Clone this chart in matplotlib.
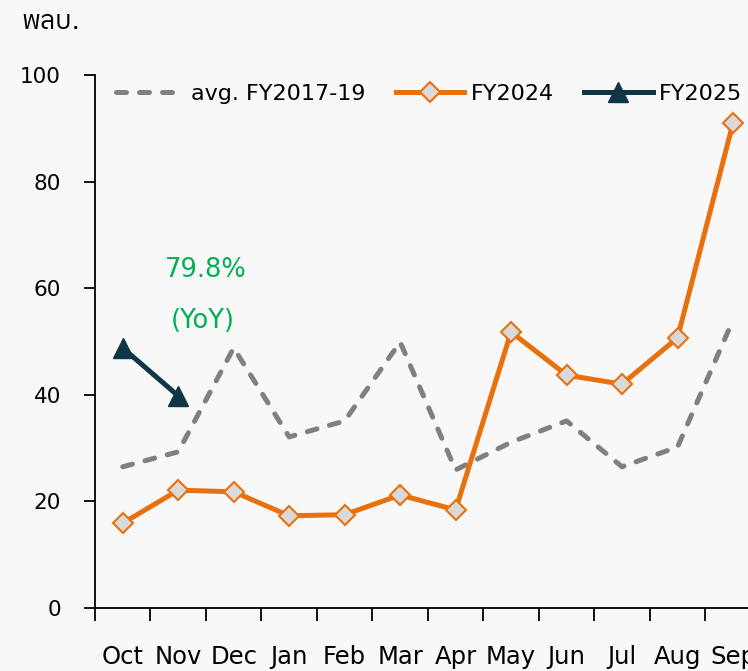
import numpy as np
import matplotlib
matplotlib.use("Agg")
import matplotlib.pyplot as plt
from matplotlib import font_manager

# ============================================
# Data (unit: พลบ.)
# ============================================
months = ["Oct", "Nov", "Dec", "Jan", "Feb", "Mar",
          "Apr", "May", "Jun", "Jul", "Aug", "Sep"]
avg_1719 = [26.5, 29.3, 48.8, 32.1, 35.1, 49.9, 25.9, 31.1, 35.1, 26.5, 30.2, 54.0]
fy2024 = [15.9, 22.1, 21.8, 17.3, 17.5, 21.2, 18.4, 51.8, 43.7, 42.0, 50.7, 91.0]
fy2025 = [48.8, 39.8]
yoy_text = ["79.8%", "(YoY)"]

# fonts: look for something with Thai glyphs for the unit label
thai_fams = sorted({f.name for f in font_manager.fontManager.ttflist
                    if "thai" in f.name.lower() or f.name in ("Loma", "Garuda", "Waree", "Tlwg Typo")})
fams = ["DejaVu Sans"] + thai_fams
plt.rcParams["font.family"] = fams

bg = "#f8f8f8"
orange = "#e8700d"
teal = "#0e3646"
grey = "#808080"
green = "#00b050"

fig = plt.figure(figsize=(7.48, 6.71), dpi=100, facecolor=bg)
ax = fig.add_axes([0.127, 0.094, 0.890, 0.794], facecolor=bg)

x = np.arange(len(months))
ax.plot(x, avg_1719, color=grey, lw=3.6, linestyle=(0, (2.0, 2.6)),
        dash_capstyle="round", label="avg. FY2017-19", zorder=2)
ax.plot(x, fy2024, color=orange, lw=3.6, marker="D", markersize=10,
        markerfacecolor="#d9d9d9", markeredgecolor=orange, markeredgewidth=1.5,
        label="FY2024", zorder=3)
ax.plot(x[:len(fy2025)], fy2025, color=teal, lw=3.6, marker="^", markersize=14,
        label="FY2025", zorder=4)

ax.text(1.5, 63.5, yoy_text[0], color=green, fontsize=18.5, ha="center", va="center")
ax.text(1.45, 53.9, yoy_text[1], color=green, fontsize=18.5, ha="center", va="center")

ax.set_xlim(-0.5, len(months) - 0.5)
ax.set_ylim(0, 100)
ax.set_yticks(np.arange(0, 101, 20))
ax.set_xticks(np.arange(-0.5, len(months), 1.0))
ax.set_xticklabels([])
ax.set_xticks(x, minor=True)
ax.set_xticklabels(months, minor=True)
ax.tick_params(axis="x", which="minor", length=0, pad=27, labelsize=17.5)
ax.tick_params(axis="x", which="major", length=9, width=1.3, direction="out")
ax.tick_params(axis="y", length=8, width=1.3, direction="out", labelsize=15.5, pad=16.5)

for s in ["top", "right"]:
    ax.spines[s].set_visible(False)
for s in ["left", "bottom"]:
    ax.spines[s].set_linewidth(1.3)

fig.text(0.028, 0.967, "พลบ.", fontsize=19, ha="left", va="center")

ax.legend(loc="upper left", bbox_to_anchor=(0.155, 0.875), bbox_transform=fig.transFigure,
          ncol=3, frameon=False, fontsize=16, handlelength=3.1, handletextpad=0.3,
          columnspacing=1.33, borderaxespad=0, borderpad=0)

plt.savefig("out.png", dpi=100, facecolor=bg)
